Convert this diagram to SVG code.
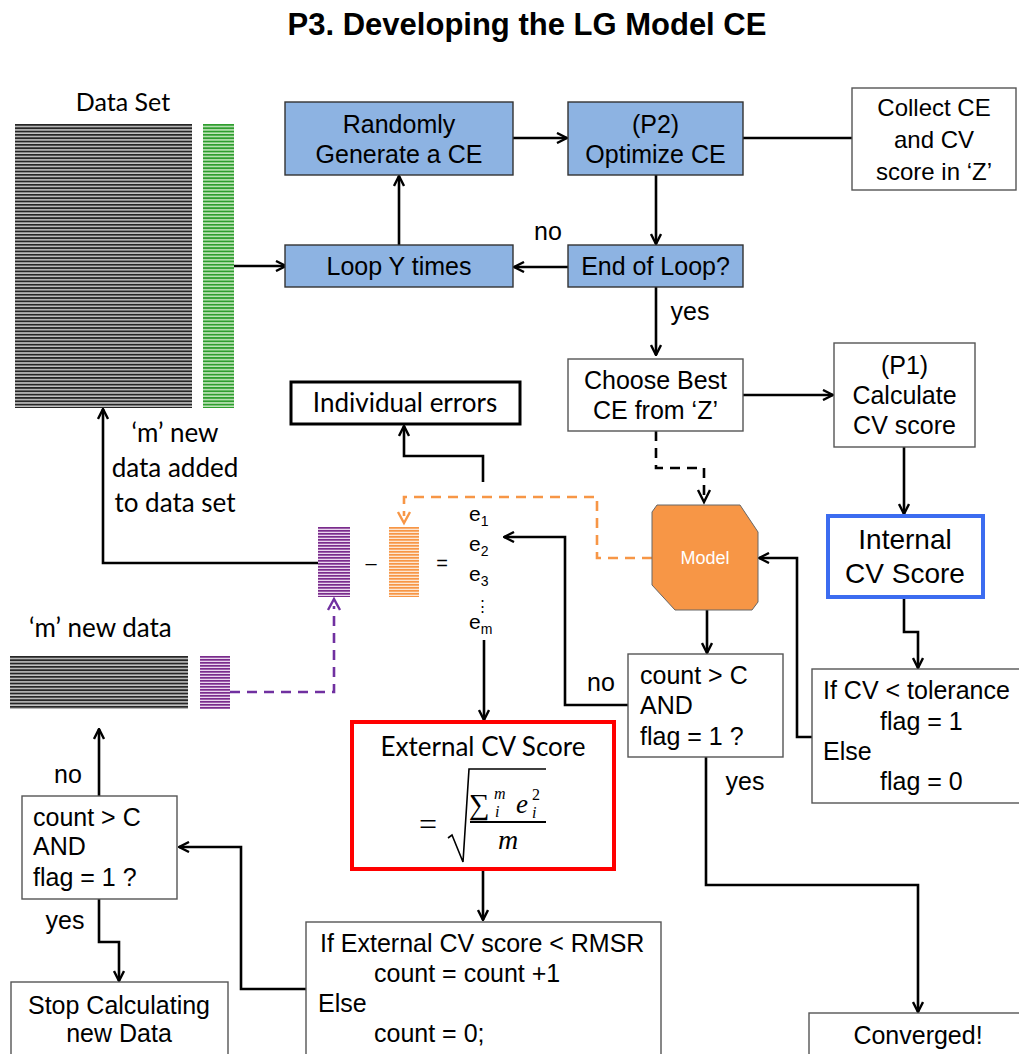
<svg xmlns="http://www.w3.org/2000/svg" width="1019" height="1054" viewBox="0 0 1019 1054">
<style>
.h{font-family:"Liberation Sans",Arial,sans-serif;fill:#000}
.c{font-family:Lato,"Open Sans",sans-serif;fill:#000}
.m{font-family:"Liberation Serif","DejaVu Serif",serif;font-style:italic;fill:#000}
.mid{text-anchor:middle}
.box{fill:#fff;stroke:#555;stroke-width:1.4}
.blue{fill:#8db3e2;stroke:#333;stroke-width:1.4}
.ln{fill:none;stroke:#000;stroke-width:2.6;stroke-linejoin:miter}
.arr{marker-end:url(#ah)}
</style>
<defs>
<marker id="ah" viewBox="0 0 12 12" refX="11" refY="6" markerWidth="12" markerHeight="12" markerUnits="userSpaceOnUse" orient="auto">
<path d="M1,1 L11,6 L1,11" fill="none" stroke="#000" stroke-width="2.4"/>
</marker>
<pattern id="pk" patternUnits="userSpaceOnUse" x="0" y="124" width="8" height="3.33">
<rect width="8" height="3.33" fill="#c4c4c4"/><rect width="8" height="1.8" fill="#262626"/>
</pattern>
<pattern id="pk2" patternUnits="userSpaceOnUse" x="0" y="656" width="8" height="3.33">
<rect width="8" height="3.33" fill="#c4c4c4"/><rect width="8" height="1.8" fill="#262626"/>
</pattern>
<pattern id="pg" patternUnits="userSpaceOnUse" x="0" y="124" width="8" height="3.33">
<rect width="8" height="3.33" fill="#c2e6bc"/><rect width="8" height="1.8" fill="#2f9e2f"/>
</pattern>
<pattern id="pp" patternUnits="userSpaceOnUse" x="0" y="527" width="8" height="3">
<rect width="8" height="3" fill="#ead6ee"/><rect width="8" height="1.7" fill="#7a2c8c"/>
</pattern>
<pattern id="pp2" patternUnits="userSpaceOnUse" x="0" y="656" width="8" height="3">
<rect width="8" height="3" fill="#ead6ee"/><rect width="8" height="1.7" fill="#7a2c8c"/>
</pattern>
<pattern id="po" patternUnits="userSpaceOnUse" x="0" y="527" width="8" height="3">
<rect width="8" height="3" fill="#fde6d2"/><rect width="8" height="1.7" fill="#f79646"/>
</pattern>
</defs>

<text class="h mid" x="527" y="35" font-size="31" font-weight="bold">P3. Developing the LG Model CE</text>

<g id="connectors">
<path class="ln arr" d="M234,266 H286"/>
<path class="ln arr" d="M513,138 H567"/>
<path class="ln" d="M743,138 H852"/>
<path class="ln arr" d="M656,175 V244"/>
<path class="ln arr" d="M568,267 H514"/>
<path class="ln arr" d="M399,245 V176"/>
<path class="ln arr" d="M656,287 V355"/>
<path class="ln arr" d="M743,395 H833"/>
<path class="ln arr" d="M904,447 V514"/>
<path class="ln" stroke-dasharray="10,7" d="M656,431 V468 H704 V495"/>
<path d="M698,490 L704,502 L710,490" fill="none" stroke="#000" stroke-width="2.4"/>
<path fill="none" stroke="#f79646" stroke-width="2.6" stroke-dasharray="10,7" d="M652,558 H597 V497 H404 V516"/>
<path d="M398,512 L404,523 L410,512" fill="none" stroke="#f79646" stroke-width="2.4"/>
<path class="ln arr" d="M483,482 V456 H404 V426"/>
<path class="ln arr" d="M318,563 H103 V409"/>
<path fill="none" stroke="#7030a0" stroke-width="2.6" stroke-dasharray="10,7" d="M230,692 H334 V606"/>
<path d="M328,610 L334,599 L340,610" fill="none" stroke="#7030a0" stroke-width="2.4"/>
<path class="ln arr" d="M628,705 H565 V537 H504"/>
<path class="ln arr" d="M707,610 V653"/>
<path class="ln arr" d="M484,640 V720"/>
<path class="ln arr" d="M483,869 V920"/>
<path class="ln arr" d="M904,597 V632 H918 V668"/>
<path class="ln arr" d="M812,737 H797 V558 H759"/>
<path class="ln arr" d="M706,757 V885 H918 V1012"/>
<path class="ln arr" d="M306,989 H241 V847 H179"/>
<path class="ln arr" d="M99,796 V729"/>
<path class="ln arr" d="M99,899 V942 H119 V981"/>
</g>

<g id="data-set">
<text class="c mid" x="123" y="111" font-size="25">Data Set</text>
<rect x="15" y="124" width="177" height="284" fill="url(#pk)"/>
<rect x="203" y="124" width="31" height="284" fill="url(#pg)"/>
</g>

<g id="randomly"><rect class="blue" x="285" y="102" width="228" height="73"/>
<text class="h mid" x="399" y="133" font-size="25">Randomly</text>
<text class="h mid" x="399" y="163" font-size="25">Generate a CE</text></g>

<g id="optimize"><rect class="blue" x="568" y="102" width="175" height="73"/>
<text class="h mid" x="655.5" y="133" font-size="25">(P2)</text>
<text class="h mid" x="655.5" y="163" font-size="25">Optimize CE</text></g>

<g id="loop"><rect class="blue" x="285" y="245" width="228" height="42"/>
<text class="h mid" x="399" y="275" font-size="25">Loop Y times</text></g>

<g id="end-loop"><rect class="blue" x="568" y="245" width="175" height="42"/>
<text class="h mid" x="655.5" y="275" font-size="25">End of Loop?</text></g>

<g id="collect"><rect class="box" x="852" y="88" width="164" height="102"/>
<text class="h mid" x="934" y="116" font-size="24">Collect CE</text>
<text class="h mid" x="934" y="148" font-size="24">and CV</text>
<text class="h mid" x="934" y="180" font-size="24">score in ‘Z’</text></g>

<g id="labels">
<text class="h mid" x="548" y="240" font-size="25">no</text>
<text class="h mid" x="690" y="320" font-size="25">yes</text>
<text class="h mid" x="601" y="691" font-size="25">no</text>
<text class="h mid" x="745" y="790" font-size="25">yes</text>
<text class="h mid" x="68" y="783" font-size="25">no</text>
<text class="h mid" x="65" y="929" font-size="25">yes</text>
</g>

<g id="choose"><rect class="box" x="568" y="359" width="175" height="72"/>
<text class="h mid" x="655.5" y="389" font-size="25">Choose Best</text>
<text class="h mid" x="655.5" y="419" font-size="25">CE from ‘Z’</text></g>

<g id="p1"><rect class="box" x="834" y="343" width="141" height="104"/>
<text class="h mid" x="904.5" y="374" font-size="25">(P1)</text>
<text class="h mid" x="904.5" y="404" font-size="25">Calculate</text>
<text class="h mid" x="904.5" y="434" font-size="25">CV score</text></g>

<g id="internal"><rect x="828" y="516" width="155" height="81" fill="#fff" stroke="#3c6cf0" stroke-width="4"/>
<text class="h mid" x="905" y="549" font-size="28">Internal</text>
<text class="h mid" x="905" y="583" font-size="28">CV Score</text></g>

<g id="model"><polygon points="657,505 740,505 758,532 758,602 752,610 675,610 652,585 652,512" fill="#f79646" stroke="#666" stroke-width="1"/>
<text class="h mid" x="705" y="564" font-size="18" style="fill:#fff">Model</text></g>

<g id="individual"><rect x="291" y="382" width="229" height="42" fill="#fff" stroke="#000" stroke-width="3"/>
<text class="c mid" x="405" y="412" font-size="26">Individual errors</text></g>

<g id="new-data-label">
<text class="c mid" x="175" y="442" font-size="26">‘m’ new</text>
<text class="c mid" x="175" y="477" font-size="26">data added</text>
<text class="c mid" x="175" y="512" font-size="26">to data set</text>
</g>

<g id="errors-calc">
<rect x="318" y="527" width="32" height="70" fill="url(#pp)"/>
<text class="h mid" x="371" y="570" font-size="20">–</text>
<rect x="389" y="527" width="30" height="70" fill="url(#po)"/>
<text class="h mid" x="442" y="570" font-size="20">=</text>
<text class="h" x="469" y="521" font-size="21">e<tspan font-size="14" dy="5">1</tspan></text>
<text class="h" x="469" y="551" font-size="21">e<tspan font-size="14" dy="5">2</tspan></text>
<text class="h" x="469" y="581" font-size="21">e<tspan font-size="14" dy="5">3</tspan></text>
<text class="h" x="475" y="611" font-size="15">⋮</text>
<text class="h" x="469" y="629" font-size="21">e<tspan font-size="14" dy="5">m</tspan></text>
</g>

<g id="m-new-data">
<text class="c" x="29" y="637" font-size="26">‘m’ new data</text>
<rect x="10" y="656" width="178" height="53" fill="url(#pk2)"/>
<rect x="200" y="656" width="30" height="53" fill="url(#pp2)"/>
</g>

<g id="count-right"><rect class="box" x="628" y="654" width="155" height="103"/>
<text class="h" x="640" y="684" font-size="25">count &gt; C</text>
<text class="h" x="640" y="714" font-size="25">AND</text>
<text class="h" x="640" y="745" font-size="25">flag = 1 ?</text></g>

<g id="if-cv"><rect class="box" x="812" y="669" width="210" height="134"/>
<text class="h" x="823" y="699" font-size="25">If CV &lt; tolerance</text>
<text class="h" x="880" y="730" font-size="25">flag = 1</text>
<text class="h" x="823" y="760" font-size="25">Else</text>
<text class="h" x="880" y="790" font-size="25">flag = 0</text></g>

<g id="external"><rect x="352" y="722" width="262" height="147" fill="#fff" stroke="#ff0000" stroke-width="4"/>
<text class="c mid" x="483" y="756" font-size="26">External CV Score</text>
<text class="m" x="419" y="835" font-size="32" style="font-style:normal">=</text>
<path d="M448,838 L452,835 L463,862 L469,769 L546,769" fill="none" stroke="#000" stroke-width="1.6"/>
<text class="m" x="469" y="814" font-size="29" style="font-style:normal">∑</text>
<text class="m" x="494" y="799" font-size="16">m</text>
<text class="m" x="495" y="817" font-size="16">i</text>
<text class="m" x="516" y="813" font-size="27">e</text>
<text class="m" x="532" y="800" font-size="16" style="font-style:normal">2</text>
<text class="m" x="532" y="818" font-size="16">i</text>
<line x1="470" y1="822" x2="546" y2="822" stroke="#000" stroke-width="1.8"/>
<text class="m mid" x="508" y="849" font-size="28">m</text></g>

<g id="if-ext"><rect class="box" x="306" y="922" width="355" height="140"/>
<text class="h" x="320" y="952" font-size="25">If External CV score &lt; RMSR</text>
<text class="h" x="374" y="982" font-size="25">count = count +1</text>
<text class="h" x="318" y="1012" font-size="25">Else</text>
<text class="h" x="374" y="1042" font-size="25">count = 0;</text></g>

<g id="count-left"><rect class="box" x="22" y="796" width="155" height="103"/>
<text class="h" x="33" y="826" font-size="25">count &gt; C</text>
<text class="h" x="33" y="855" font-size="25">AND</text>
<text class="h" x="33" y="886" font-size="25">flag = 1 ?</text></g>

<g id="stop"><rect class="box" x="11" y="982" width="217" height="80"/>
<text class="h mid" x="119" y="1014" font-size="25">Stop Calculating</text>
<text class="h mid" x="119" y="1042" font-size="25">new Data</text></g>

<g id="converged"><rect class="box" x="809" y="1013" width="215" height="50"/>
<text class="h mid" x="918" y="1044" font-size="25">Converged!</text></g>
</svg>
